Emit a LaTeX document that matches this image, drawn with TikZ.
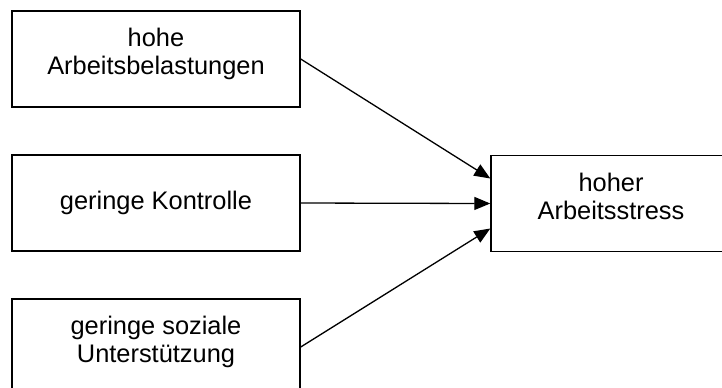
\documentclass[tikz,border=0pt]{standalone}
\usepackage{fontspec}
\setmainfont{Liberation Sans}
\usetikzlibrary{arrows.meta,positioning}
\tikzset{
  block/.style  = {draw, line width=0.7pt, rectangle, minimum height=48pt,
                   minimum width=144pt, align=center},
  lifted/.style = {text depth=7.5pt},
  sig/.style    = {-{Triangle[length=8pt,width=6.5pt]}, line width=0.65pt},
}
\begin{document}
\begin{tikzpicture}[x=0.5pt,y=-0.5pt,font=\fontsize{12.7}{14}\selectfont]
\useasboundingbox (0,0) rectangle (722,387);
\clip (0,0) rectangle (722,387);
% causes on the left
\node[block,lifted] (load) at (156,59)  {hohe\\Arbeitsbelastungen};
\node[block] (ctrl) at (156,203) {geringe Kontrolle};
\node[block,lifted] (supp) at (156,347) {geringe soziale\\Unterstützung};
% outcome on the right
\node[block,lifted,minimum width=120pt] (stress) at (611,203.5) {hoher\\Arbeitsstress};
\draw[sig] (load.east) -- ([yshift=12.5pt]stress.west);
\draw[sig] (ctrl.east) -- (stress.west);
\draw[sig] (supp.east) -- ([yshift=-12.5pt]stress.west);
\end{tikzpicture}
\end{document}
